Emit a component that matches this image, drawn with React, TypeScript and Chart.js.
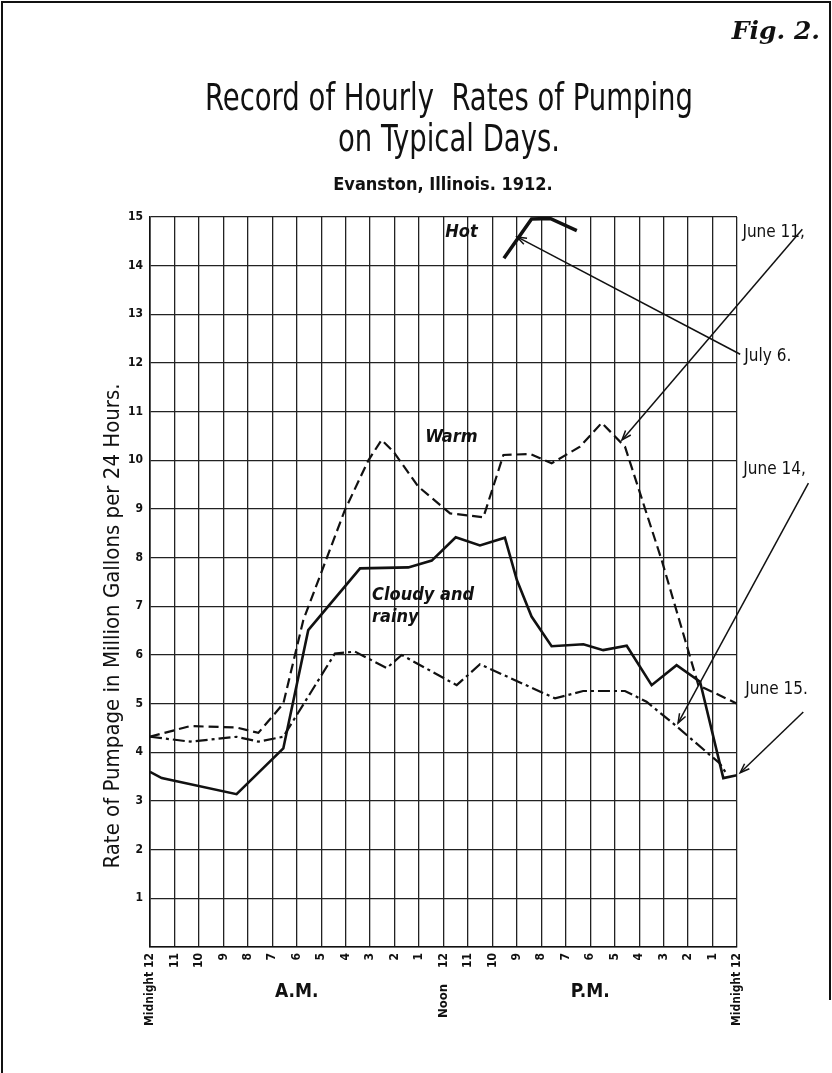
import React, { useEffect, useRef } from 'react';
import { Chart, registerables } from 'chart.js';

Chart.register(...registerables);

// ---------- data ----------
const hourTickLabels = [
  'Midnight 12', '11', '10', '9', '8', '7', '6', '5', '4', '3', '2', '1',
  '12', '11', '10', '9', '8', '7', '6', '5', '4', '3', '2', '1', 'Midnight 12',
];

// June 11 — "Warm" (dashed)
const june11Hours = [0, 1.64, 3.54, 4.43, 5.45, 6.27, 7.97, 8.93, 9.47, 9.95, 10.97, 12.27, 13.63, 14.45, 15.54, 16.42, 17.58, 18.47, 19.42, 20.92, 22.42, 24];
const june11Values = [4.32, 4.54, 4.51, 4.4, 5.0, 6.72, 8.98, 10.0, 10.42, 10.18, 9.46, 8.91, 8.83, 10.11, 10.13, 9.94, 10.28, 10.77, 10.28, 7.95, 5.38, 5.0];

// July 6 — "Hot" (heavy solid)
const july6Hours = [14.47, 15.6, 16.36, 17.45];
const july6Values = [14.15, 14.96, 14.97, 14.72];

// June 14 — dash-dot
const june14Hours = [0, 1.64, 3.54, 4.43, 5.45, 7.56, 8.38, 9.68, 10.29, 12.54, 13.49, 16.56, 17.71, 19.42, 20.3, 21.4, 23.3, 23.58];
const june14Values = [4.32, 4.22, 4.32, 4.22, 4.32, 6.03, 6.07, 5.73, 6.0, 5.38, 5.81, 5.11, 5.26, 5.26, 5.04, 4.59, 3.77, 3.55];

// June 15 — "Cloudy and rainy" (solid)
const june15Hours = [0, 0.48, 3.54, 5.45, 6.47, 8.59, 10.56, 11.52, 12.5, 13.49, 14.51, 15.0, 15.6, 16.42, 17.72, 18.53, 19.49, 20.51, 21.53, 22.49, 23.44, 24];
const june15Values = [3.6, 3.47, 3.14, 4.08, 6.51, 7.78, 7.8, 7.94, 8.42, 8.25, 8.41, 7.54, 6.79, 6.18, 6.22, 6.1, 6.19, 5.38, 5.79, 5.45, 3.47, 3.53];

// date labels with arrows (data coordinates: hour, value)
const dateLabels = ['June 11,', 'July 6.', 'June 14,', 'June 15.'];
const dateLabelAt = [[24.22, 14.69], [24.3, 12.14], [24.26, 9.8], [24.34, 5.28]];
const arrowTail = [[26.67, 14.75], [24.13, 12.18], [26.92, 9.53], [26.71, 4.83]];
const arrowTip = [[19.3, 10.42], [15.01, 14.59], [21.59, 4.6], [24.13, 3.58]];

// curve notes
const curveNotes = ['Hot', 'Warm', 'Cloudy and', 'rainy'];
const curveNoteAt = [[12.07, 14.69], [11.25, 10.48], [9.08, 7.23], [9.08, 6.78]];

const figLabel = 'Fig. 2.';
const titleLine1 = 'Record of Hourly  Rates of Pumping';
const titleLine2 = 'on Typical Days.';
const subtitle = 'Evanston, Illinois. 1912.';
const yAxisTitle = 'Rate of Pumpage in Million Gallons per 24 Hours.';
const periodLabels = ['A.M.', 'P.M.'];
const periodAt = [6, 18];
const noonLabel = 'Noon';

const toPoints = (hs: number[], vs: number[]) => hs.map((h, i) => ({ x: h, y: vs[i] }));

const COND = '"DejaVu Sans Condensed", "DejaVu Sans", sans-serif';

const decorPlugin = {
  id: 'decor',
  beforeDraw(chart: any) {
    const { ctx, width, height } = chart;
    ctx.save();
    ctx.fillStyle = '#ffffff';
    ctx.fillRect(0, 0, width, height);
    ctx.strokeStyle = '#111';
    ctx.lineWidth = 2;
    ctx.beginPath();
    ctx.moveTo(2, height);
    ctx.lineTo(2, 2);
    ctx.lineTo(width - 2, 2);
    ctx.lineTo(width - 2, 1000);
    ctx.stroke();
    ctx.restore();
  },
  afterDraw(chart: any) {
    const { ctx } = chart;
    const xs = chart.scales.x;
    const ys = chart.scales.y;
    const px = (h: number) => xs.getPixelForValue(h);
    const py = (v: number) => ys.getPixelForValue(v);
    ctx.save();
    ctx.fillStyle = '#111';
    ctx.strokeStyle = '#111';

    // Fig. 2.
    ctx.font = 'bold italic 25px "DejaVu Serif", serif';
    ctx.textAlign = 'right';
    ctx.textBaseline = 'middle';
    ctx.fillText(figLabel, 820, 32);

    // titles (same horizontal compression for both lines)
    ctx.textAlign = 'center';
    ctx.font = '37px ' + COND;
    const natural = ctx.measureText(titleLine1).width;
    const k = 488 / natural;
    ctx.save();
    ctx.translate(449, 0);
    ctx.scale(k, 1);
    ctx.fillText(titleLine1, 0, 100);
    ctx.fillText(titleLine2, 0, 141);
    ctx.restore();
    ctx.font = 'bold 18px ' + COND;
    ctx.fillText(subtitle, 443, 185, 233);

    // y axis title
    ctx.save();
    ctx.translate(113, 626);
    ctx.rotate(-Math.PI / 2);
    ctx.font = '22px ' + COND;
    ctx.fillText(yAxisTitle, 0, 0, 497);
    ctx.restore();

    // A.M. / P.M.
    ctx.font = 'bold 19px ' + COND;
    periodLabels.forEach((t, i) => {
      ctx.fillText(t, px(periodAt[i]), 992);
    });
    // Noon
    ctx.save();
    ctx.translate(px(12), 1001);
    ctx.rotate(-Math.PI / 2);
    ctx.font = 'bold 13px ' + COND;
    ctx.fillText(noonLabel, 0, 0);
    ctx.restore();

    // date labels + arrows
    ctx.textAlign = 'left';
    ctx.font = '17px ' + COND;
    dateLabels.forEach((t, i) => {
      ctx.fillText(t, px(dateLabelAt[i][0]), py(dateLabelAt[i][1]));
      const x1 = px(arrowTail[i][0]);
      const y1 = py(arrowTail[i][1]);
      const x2 = px(arrowTip[i][0]);
      const y2 = py(arrowTip[i][1]);
      ctx.lineWidth = 1.5;
      ctx.beginPath();
      ctx.moveTo(x1, y1);
      ctx.lineTo(x2, y2);
      ctx.stroke();
      const a = Math.atan2(y2 - y1, x2 - x1);
      const L = 10;
      ctx.beginPath();
      ctx.moveTo(x2 - L * Math.cos(a - 0.35), y2 - L * Math.sin(a - 0.35));
      ctx.lineTo(x2, y2);
      ctx.lineTo(x2 - L * Math.cos(a + 0.35), y2 - L * Math.sin(a + 0.35));
      ctx.stroke();
    });

    // curve notes
    ctx.font = 'italic bold 18px ' + COND;
    curveNotes.forEach((t, i) => {
      ctx.fillText(t, px(curveNoteAt[i][0]), py(curveNoteAt[i][1]));
    });
    ctx.restore();
  },
};

export default function App() {
  const ref = useRef<HTMLCanvasElement | null>(null);
  useEffect(() => {
    if (!ref.current) return;
    const chart = new Chart(ref.current, {
      type: 'line',
      data: {
        datasets: [
          {
            label: 'June 11',
            data: toPoints(june11Hours, june11Values),
            borderColor: '#111',
            borderWidth: 2.2,
            borderDash: [10, 5],
            pointRadius: 0,
            tension: 0,
          },
          {
            label: 'July 6',
            data: toPoints(july6Hours, july6Values),
            borderColor: '#111',
            borderWidth: 3.5,
            pointRadius: 0,
            tension: 0,
          },
          {
            label: 'June 14',
            data: toPoints(june14Hours, june14Values),
            borderColor: '#111',
            borderWidth: 2.2,
            borderDash: [12, 4, 3, 4],
            pointRadius: 0,
            tension: 0,
          },
          {
            label: 'June 15',
            data: toPoints(june15Hours, june15Values),
            borderColor: '#111',
            borderWidth: 2.6,
            pointRadius: 0,
            tension: 0,
          },
        ],
      },
      options: {
        animation: false,
        responsive: false,
        events: [],
        layout: { padding: { left: 0, top: 217, right: 95, bottom: 0 } },
        plugins: {
          legend: { display: false },
          tooltip: { enabled: false },
          title: { display: false },
        },
        scales: {
          x: {
            type: 'linear',
            min: 0,
            max: 24,
            afterFit: (s: any) => { s.height = 126; },
            ticks: {
              stepSize: 1,
              autoSkip: false,
              maxRotation: 90,
              minRotation: 90,
              padding: 6,
              color: '#111',
              font: { family: 'DejaVu Sans Condensed, DejaVu Sans', size: 12, weight: 'bold' },
              callback: (_v: any, i: number) => hourTickLabels[i],
            },
            grid: { color: '#222', lineWidth: 1.3, drawTicks: false },
            border: { color: '#111', width: 1.6 },
          },
          y: {
            type: 'linear',
            min: 0,
            max: 15,
            afterFit: (s: any) => { s.width = 150; },
            ticks: {
              stepSize: 1,
              padding: 7,
              color: '#111',
              font: { family: 'DejaVu Sans Condensed, DejaVu Sans', size: 12, weight: 'bold' },
              callback: (v: any) => (v === 0 ? '' : String(v)),
            },
            grid: { color: '#222', lineWidth: 1.3, drawTicks: false },
            border: { color: '#111', width: 1.6 },
          },
        },
      },
      plugins: [decorPlugin],
    });
    return () => chart.destroy();
  }, []);
  return (
    <div style={{ position: 'absolute', left: 0, top: 0, width: 832, height: 1073, background: '#fff' }}>
      <canvas ref={ref} width={832} height={1073} style={{ display: 'block', width: 832, height: 1073 }} />
    </div>
  );
}
